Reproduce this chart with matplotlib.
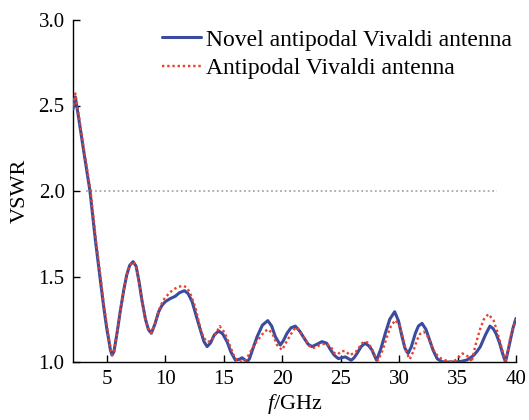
import matplotlib
matplotlib.use("Agg")
import matplotlib.pyplot as plt

plt.rcParams['font.family'] = ['Liberation Serif', 'DejaVu Serif']
plt.rcParams['mathtext.fontset'] = 'custom'
plt.rcParams['mathtext.it'] = 'Liberation Serif:italic'
plt.rcParams['mathtext.rm'] = 'Liberation Serif'

# Novel antipodal Vivaldi antenna (blue, solid)
f_novel = [2.1, 2.3, 2.6, 3.0, 3.55, 4.02, 4.4, 4.73, 5.0, 5.16, 5.3, 5.44, 5.6, 5.87, 6.15,
           6.44, 6.7, 6.95, 7.24, 7.5, 7.75, 8.0, 8.3, 8.55, 8.8, 9.1, 9.43, 9.7, 10.0, 10.4,
           10.86, 11.2, 11.63, 11.95, 12.29, 12.6, 13.0, 13.3, 13.57, 13.85, 14.2, 14.57, 14.9,
           15.28, 15.6, 16.0, 16.3, 16.57, 16.8, 17.0, 17.2, 17.5, 17.85, 18.3, 18.76, 19.1,
           19.41, 19.84, 20.1, 20.41, 20.75, 21.12, 21.5, 21.83, 22.2, 22.55, 23.0, 23.4, 23.8,
           24.1, 24.45, 24.8, 25.1, 25.4, 25.65, 25.9, 26.15, 26.4, 26.75, 27.08, 27.4, 27.68,
           27.9, 28.08, 28.45, 28.82, 29.2, 29.62, 29.95, 30.25, 30.5, 30.77, 31.05, 31.39,
           31.65, 31.96, 32.3, 32.6, 32.9, 33.25, 33.6, 33.9, 34.96, 35.4, 35.81, 36.1, 36.4,
           36.7, 36.95, 37.38, 37.77, 38.05, 38.3, 38.6, 38.85, 39.1, 39.3, 39.52, 39.75, 40.0]
vswr_novel = [2.48, 2.55, 2.42, 2.24, 2.0, 1.71, 1.50, 1.32, 1.19, 1.13, 1.07, 1.04, 1.06, 1.17, 1.30,
              1.42, 1.51, 1.565, 1.587, 1.56, 1.47, 1.36, 1.25, 1.19, 1.168, 1.22, 1.294, 1.33, 1.353, 1.37,
              1.385, 1.405, 1.417, 1.40, 1.353, 1.28, 1.187, 1.12, 1.09, 1.11, 1.16, 1.181, 1.165,
              1.119, 1.06, 1.01, 1.015, 1.025, 1.012, 1.0, 1.02, 1.08, 1.148, 1.215, 1.242, 1.21,
              1.148, 1.099, 1.125, 1.168, 1.20, 1.21, 1.18, 1.144, 1.105, 1.09, 1.105, 1.119, 1.11,
              1.075, 1.04, 1.02, 1.025, 1.03, 1.02, 1.01, 1.025, 1.05, 1.09, 1.11, 1.095, 1.07,
              1.035, 1.01, 1.08, 1.168, 1.25, 1.294, 1.24, 1.148, 1.08, 1.05, 1.09, 1.168,
              1.21, 1.226, 1.19, 1.13, 1.07, 1.02, 1.003, 1.0, 1.0, 1.005, 1.012, 1.025, 1.04,
              1.065, 1.09, 1.158, 1.21, 1.195, 1.165, 1.11, 1.05, 1.0, 1.06, 1.129, 1.20, 1.255]

# Antipodal Vivaldi antenna (red, dotted)
f_ref = [2.1, 2.3, 2.6, 3.0, 3.6, 4.05, 4.45, 4.75, 5.18, 5.44, 5.6, 5.87, 6.15, 6.44, 6.7,
         6.95, 7.24, 7.5, 7.75, 8.0, 8.3, 8.55, 8.8, 9.1, 9.43, 9.8, 10.29, 10.7, 11.14, 11.55,
         11.85, 12.14, 12.57, 12.85, 13.1, 13.5, 13.86, 14.2, 14.65, 15.1, 15.56, 15.85, 16.14,
         16.6, 16.9, 17.2, 17.6, 18.14, 18.5, 18.84, 19.2, 19.55, 19.98, 20.3, 20.7, 21.0,
         21.27, 21.6, 22.0, 22.3, 22.6, 23.1, 23.7, 24.2, 24.5, 24.75, 25.08, 25.4, 25.8, 26.3,
         26.83, 27.12, 27.4, 27.7, 28.0, 28.2, 28.6, 28.96, 29.3, 29.68, 30.0, 30.3, 30.6,
         30.91, 31.2, 31.54, 31.8, 32.1, 32.4, 32.7, 32.95, 33.25, 33.6, 33.95, 34.6, 35.0,
         35.42, 35.75, 36.06, 36.2, 36.5, 36.9, 37.25, 37.63, 38.07, 38.4, 38.83, 39.1, 39.3,
         39.52, 39.75, 40.0]
vswr_ref = [2.50, 2.57, 2.44, 2.26, 2.0, 1.72, 1.50, 1.33, 1.13, 1.04, 1.06, 1.17, 1.30, 1.42, 1.51,
            1.565, 1.587, 1.56, 1.47, 1.36, 1.25, 1.19, 1.17, 1.22, 1.30, 1.36, 1.40, 1.425, 1.44, 1.446,
            1.435, 1.40, 1.32, 1.24, 1.17, 1.12, 1.12, 1.15, 1.21, 1.17, 1.09, 1.04, 1.01,
            1.0, 1.015, 1.05, 1.10, 1.148, 1.18, 1.191, 1.16, 1.10, 1.07, 1.11, 1.158, 1.19,
            1.203, 1.17, 1.129, 1.095, 1.08, 1.095, 1.109, 1.085, 1.05, 1.045, 1.064, 1.064, 1.04, 1.06,
            1.11, 1.12, 1.11, 1.07, 1.025, 1.01, 1.07, 1.148, 1.21, 1.245, 1.215, 1.15, 1.06,
            1.016, 1.06, 1.13, 1.165, 1.177, 1.155, 1.11, 1.07, 1.04, 1.02, 1.01, 1.0, 1.02,
            1.05, 1.04, 1.02, 1.0, 1.09, 1.187, 1.25, 1.28, 1.245, 1.177, 1.07, 1.01, 1.06,
            1.148, 1.20, 1.25]

ref_line_x = [3.2, 38.4]
ref_line_y = [2.0, 2.0]

x_ticks = [5, 10, 15, 20, 25, 30, 35, 40]
y_ticks = [1.0, 1.5, 2.0, 2.5, 3.0]

W, H = 529, 420
fig = plt.figure(figsize=(W / 100, H / 100), dpi=100)
ax = fig.add_axes([73 / W, 1 - 362 / H, (516 - 73) / W, (362 - 20) / H])

ax.plot(ref_line_x, ref_line_y, linestyle=(0, (1, 1.5)), color='#a8a8a8', lw=1.3)
ax.plot(f_novel, vswr_novel, color='#3b4c9f', lw=2.2, label='Novel antipodal Vivaldi antenna',
        solid_joinstyle='round', solid_capstyle='round', zorder=3)
ax.plot(f_ref, vswr_ref, color='#e8402a', lw=1.7, linestyle=(0, (1, 1.2)),
        label='Antipodal Vivaldi antenna', zorder=4)

ax.set_xlim(2.1, 40)
ax.set_ylim(1.0, 3.0)
ax.set_xticks(x_ticks)
ax.set_yticks(y_ticks)
ax.set_yticklabels([f"{v:.1f}" for v in y_ticks])
ax.tick_params(direction='in', length=5, width=1, labelsize=15, pad=6)
for s in ['top', 'right']:
    ax.spines[s].set_visible(False)
for s in ['left', 'bottom']:
    ax.spines[s].set_linewidth(1.0)

ax.set_ylabel('VSWR', fontsize=16, labelpad=6)
ax.set_xlabel('$f$/GHz', fontsize=16, labelpad=2)

leg = ax.legend(loc='upper left', bbox_to_anchor=(162 / W, 1 - 29 / H),
                bbox_transform=fig.transFigure, frameon=False, fontsize=17,
                handlelength=1.65, handletextpad=0.2, labelspacing=0.3, borderpad=0,
                borderaxespad=0)

fig.savefig('out.png', dpi=100)
